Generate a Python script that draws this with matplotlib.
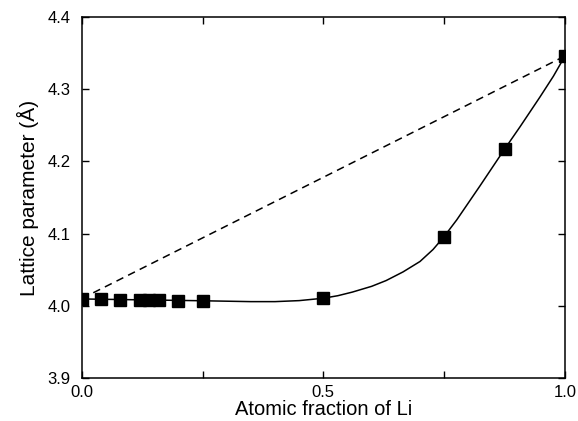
import matplotlib
matplotlib.use("Agg")
import matplotlib.pyplot as plt
from matplotlib.ticker import MultipleLocator, FixedLocator, FormatStrFormatter

plt.rcParams['font.family'] = ['Liberation Sans', 'DejaVu Sans']

# measured lattice parameters
x_li = [0.0, 0.04, 0.08, 0.12, 0.14, 0.16, 0.20, 0.25, 0.50, 0.75, 0.875, 1.0]
a_meas = [4.010, 4.009, 4.008, 4.008, 4.008, 4.008, 4.007, 4.007, 4.0105, 4.096, 4.217, 4.346]

# guide-to-the-eye curve
x_fit = [0.0, 0.1, 0.2, 0.25, 0.3, 0.35, 0.4, 0.45, 0.5, 0.53, 0.56, 0.6, 0.63,
         0.665, 0.70, 0.727, 0.75, 0.776, 0.824, 0.875, 0.907, 0.948, 0.976, 1.0]
a_fit = [4.0095, 4.0085, 4.0075, 4.007, 4.0064, 4.0058, 4.0058, 4.0072, 4.0105, 4.014,
         4.019, 4.027, 4.035, 4.047, 4.0614, 4.078, 4.096, 4.119, 4.166,
         4.217, 4.248, 4.289, 4.318, 4.346]

# Vegard's law line between the end members
x_vegard = [0.0, 1.0]
a_vegard = [4.010, 4.346]

fig = plt.figure(figsize=(5.78, 4.21), dpi=100)
ax = fig.add_axes([0.1413, 0.1021, 0.8362, 0.8575])

ax.plot(x_vegard, a_vegard, color='black', lw=1.1, ls=(0, (5, 3.5)))
ax.plot(x_fit, a_fit, color='black', lw=1.1)
ax.plot(x_li, a_meas, ls='none', marker='s', ms=9, color='black')

ax.set_xlim(0, 1)
ax.set_ylim(3.9, 4.4)
ax.xaxis.set_major_locator(FixedLocator([0.0, 0.5, 1.0]))
ax.xaxis.set_minor_locator(FixedLocator([0.25, 0.75]))
ax.yaxis.set_major_locator(MultipleLocator(0.1))
ax.xaxis.set_major_formatter(FormatStrFormatter('%.1f'))
ax.yaxis.set_major_formatter(FormatStrFormatter('%.1f'))

ax.tick_params(which='both', direction='in', top=True, right=True,
               length=5, width=1, labelsize=12)
ax.tick_params(axis='x', pad=5)
ax.tick_params(axis='y', pad=8)
for s in ax.spines.values():
    s.set_linewidth(1.1)

ax.set_xlabel('Atomic fraction of Li', fontsize=14.5, labelpad=0)
ax.set_ylabel('Lattice parameter (Å)', fontsize=15, labelpad=6)

fig.savefig('out.png', dpi=100)
